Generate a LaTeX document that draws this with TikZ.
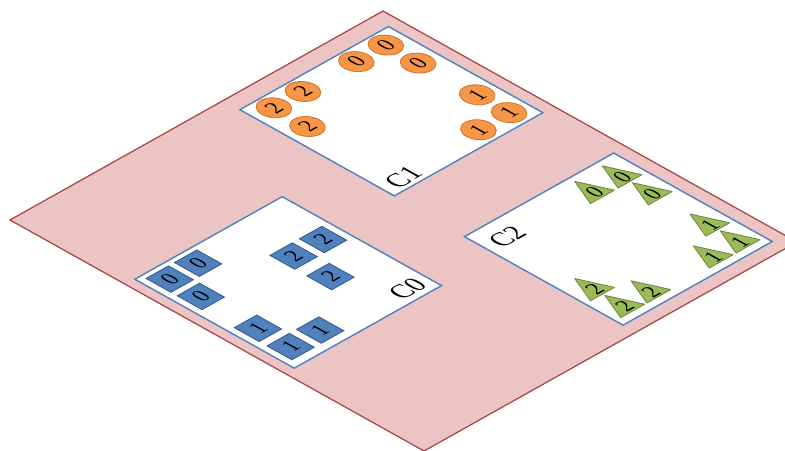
\documentclass[tikz,border=0pt]{standalone}
\usepackage{fontspec}
\setmainfont{Liberation Serif}
\usepackage{xcolor}
\usepackage{tikz}

\definecolor{floorfill}{RGB}{236,196,195}
\definecolor{floorline}{RGB}{168,68,66}
\definecolor{panelline}{RGB}{79,129,189}
\definecolor{orangefill}{RGB}{247,150,70}
\definecolor{orangeline}{RGB}{214,118,44}
\definecolor{bluefill}{RGB}{79,129,189}
\definecolor{blueline}{RGB}{56,93,138}
\definecolor{greenfill}{RGB}{155,187,89}
\definecolor{greenline}{RGB}{113,137,63}

\begin{document}
\begin{tikzpicture}[
    floor/.style={fill=floorfill, draw=floorline, line width=0.7pt},
    panel/.style={fill=white, draw=panelline, line width=0.8pt},
    ball/.style={circle, fill=orangefill, draw=orangeline, line width=0.5pt,
                 minimum size=0.64cm, inner sep=0pt, transform shape, font=\fontsize{14}{14}\selectfont},
    tile/.style={rectangle, fill=bluefill, draw=blueline, line width=0.5pt,
                 minimum size=0.6cm, inner sep=0pt, transform shape, font=\fontsize{14}{14}\selectfont},
    cone/.style={fill=greenfill, draw=greenline, line width=0.5pt, line join=round},
    num/.style={inner sep=0pt, transform shape, font=\fontsize{14}{14}\selectfont},
    lbl/.style={inner sep=0pt, transform shape, font=\fontsize{17}{17}\selectfont},
  ]

  \clip[use as bounding box] (0,0) rectangle (15.7,9);

  \begin{scope}[cm={0.746,0.418,-0.828,0.462,(8.48,-0.02)}]

  % Floor
  \draw[floor] (0,0) rectangle (10,10);

  % Panels
  \draw[panel] (0.25,3.36) rectangle (4.20,7.21);
  \draw[panel] (5.72,5.87) rectangle (9.70,9.60);
  \draw[panel] (5.68,0.31) rectangle (9.68,4.14);

  % C0 tiles
  \node[tile] (s0a) at (0.72,6.79) {0};
  \node[tile] (s0b) at (1.48,6.79) {0};
  \node[tile] (s0c) at (0.72,6.04) {0};
  \node[tile] (s2a) at (2.93,5.79) {2};
  \node[tile] (s2b) at (3.72,5.79) {2};
  \node[tile] (s2c) at (2.93,4.90) {2};
  \node[tile] (s1a) at (0.72,4.66) {1};
  \node[tile] (s1b) at (0.72,3.87) {1};
  \node[tile] (s1c) at (1.51,3.87) {1};
  \node[lbl] (c0) at (3.66,3.70) {C0};

  % C1 balls
  \node[ball] (b0a) at (9.22,9.23) {0};
  \node[ball] (b0b) at (8.43,9.23) {0};
  \node[ball] (b0c) at (9.22,8.45) {0};
  \node[ball] (b2a) at (6.22,9.23) {2};
  \node[ball] (b2b) at (7.00,9.23) {2};
  \node[ball] (b2c) at (6.22,8.42) {2};
  \node[ball] (b1a) at (9.25,7.05) {1};
  \node[ball] (b1b) at (9.25,6.28) {1};
  \node[ball] (b1c) at (8.43,6.28) {1};
  \node[lbl] (c1) at (6.28,6.16) {C1};

  % C2 cones
  \draw[cone] (8.48,3.55) ++(-0.32,-0.22) -- ++(0.64,0) -- ++(-0.32,0.67) -- cycle;
  \draw[cone] (9.22,3.55) ++(-0.32,-0.22) -- ++(0.64,0) -- ++(-0.32,0.67) -- cycle;
  \draw[cone] (9.22,2.82) ++(-0.32,-0.22) -- ++(0.64,0) -- ++(-0.32,0.67) -- cycle;
  \draw[cone] (9.24,1.45) ++(-0.32,-0.22) -- ++(0.64,0) -- ++(-0.32,0.67) -- cycle;
  \draw[cone] (9.24,0.72) ++(-0.32,-0.22) -- ++(0.64,0) -- ++(-0.32,0.67) -- cycle;
  \draw[cone] (8.52,0.72) ++(-0.32,-0.22) -- ++(0.64,0) -- ++(-0.32,0.67) -- cycle;
  \draw[cone] (6.15,1.45) ++(-0.32,-0.22) -- ++(0.64,0) -- ++(-0.32,0.67) -- cycle;
  \draw[cone] (6.15,0.72) ++(-0.32,-0.22) -- ++(0.64,0) -- ++(-0.32,0.67) -- cycle;
  \draw[cone] (6.85,0.72) ++(-0.32,-0.22) -- ++(0.64,0) -- ++(-0.32,0.67) -- cycle;
  \node[num] (t0a) at (8.48,3.52) {0};
  \node[num] (t0b) at (9.22,3.52) {0};
  \node[num] (t0c) at (9.22,2.79) {0};
  \node[num] (t1a) at (9.24,1.42) {1};
  \node[num] (t1b) at (9.24,0.69) {1};
  \node[num] (t1c) at (8.52,0.69) {1};
  \node[num] (t2a) at (6.15,1.42) {2};
  \node[num] (t2b) at (6.15,0.69) {2};
  \node[num] (t2c) at (6.85,0.69) {2};
  \node[lbl] (c2) at (6.25,3.62) {C2};

  \end{scope}

\end{tikzpicture}
\end{document}
